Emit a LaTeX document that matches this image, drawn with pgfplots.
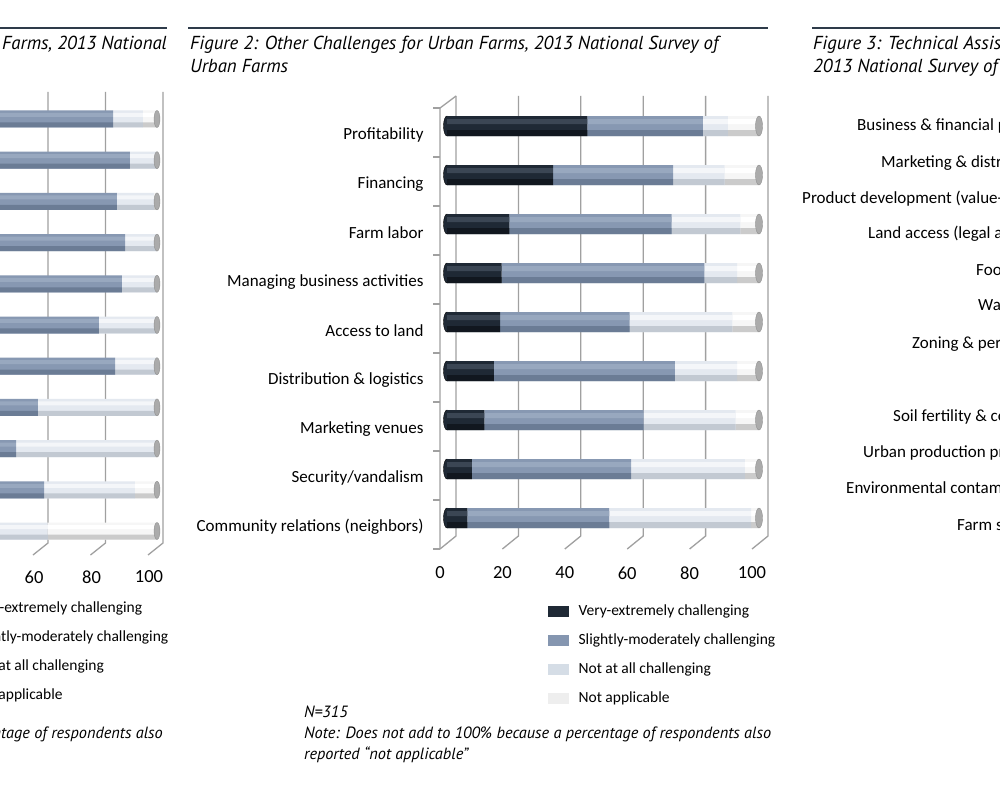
\documentclass[border=0pt]{standalone}
\usepackage{fontspec}
\setmainfont{Carlito}
\newfontfamily\notefont{PT Sans}
\usepackage{pgfplots}
\usepackage{pgfplotstable}
\pgfplotsset{compat=1.18}

\definecolor{ruleblue}{HTML}{2E3B4A}
\definecolor{gridgray}{HTML}{A0A0A0}
% bar body, lower shade and upper highlight of each segment
\definecolor{vdark}{HTML}{1F2935}
\definecolor{vdarkbot}{HTML}{11171F}
\definecolor{vdarktop}{HTML}{3B4654}
\definecolor{smed}{HTML}{8798B2}
\definecolor{smedbot}{HTML}{6B7C95}
\definecolor{smedtop}{HTML}{98A8BF}
\definecolor{nlight}{HTML}{E4E9F0}
\definecolor{nlightbot}{HTML}{C2C9D2}
\definecolor{nlighttop}{HTML}{F4F6F9}
\definecolor{napp}{HTML}{F6F6F6}
\definecolor{nappbot}{HTML}{CBCBCB}
\definecolor{napptop}{HTML}{FFFFFF}
\definecolor{capgray}{HTML}{ABABAB}
\definecolor{legdark}{HTML}{1F2935}
\definecolor{legmed}{HTML}{8596B0}
\definecolor{leglight}{HTML}{D5DDE6}
\definecolor{legna}{HTML}{EEEEEE}

% Figure 2, bottom row first: community relations, security, marketing venues,
% distribution, access to land, managing business, farm labor, financing, profitability
\pgfplotstableread{
y very slight notatall na
0 6.5 45.5 45.5 2.5
1 8 51 36.5 4.5
2 12 51 29.5 7.5
3 15 58 20 7
4 17 41.5 33 8.5
5 17.5 65 10.5 7
6 20 52 22 6
7 34 38.5 16.5 11
8 45 37 8 10
}\othertable

% Figure 1 (only its right end is in the picture), bottom row first
\pgfplotstableread{
y very slight notatall na
0 15 20 27 38
1 25 35.7 31.6 7.7
2 20 31 48.5 0.5
3 22 36.6 41 0.4
4 30 55.4 14.6 0
5 30 49.8 20.2 0
6 30 57.8 12.2 0
7 35 53.9 11.1 0
8 35 51 13 1
9 40 50.6 9.4 0
10 40 44.7 10.4 4.9
}\prodtable

% the four stacked segments of one table, in four colours
\newcommand{\segments}[5]{%
  \addplot[fill=#2, draw=none, forget plot] table[x=very, y=y] {#1};
  \addplot[fill=#3, draw=none, forget plot] table[x=slight, y=y] {#1};
  \addplot[fill=#4, draw=none, forget plot] table[x=notatall, y=y] {#1};
  \addplot[fill=#5, draw=none, forget plot] table[x=na, y=y] {#1};
}

\pgfplotsset{
  barbase/.style={
    scale only axis, anchor=south west,
    axis line style={draw=none}, major tick length=0pt,
    /pgf/number format/assume math mode=true,
    xtick={0,20,...,100},
    xticklabel style={font=\fontsize{18.5}{20}\selectfont, anchor=center},
  },
  cgeom/.style={at={(447pt,242.5pt)}, width=312pt, height=441pt,
    xmin=0, xmax=100, ymin=-0.5, ymax=8.5},
  lgeom/.style={at={(-130.5pt,233.4pt)}, width=287.5pt, height=453.2pt,
    xmin=0, xmax=100, ymin=-0.5, ymax=10.5},
  overlay/.style={hide axis, clip=false, xbar stacked},
  legbox/.style={legend image code/.code={\fill[#1] (0pt,-5pt) rectangle (20pt,5pt); \path (30pt,0pt);}},
  mylegend/.style={
    legend style={draw=none, fill=none, inner sep=0pt, anchor=north west,
      font=\fontsize{15.5}{18}\selectfont, row sep=14.5pt,
      nodes={inner sep=0pt, text height=11pt, text depth=3.5pt}},
    legend cell align=left},
}

\begin{document}
\begin{tikzpicture}[x=1pt,y=1pt]
\useasboundingbox (0,0) rectangle (1000,785);
\fill[white] (0,0) rectangle (1000,785);
\clip (0,0) rectangle (1000,785);

% top rules
\draw[ruleblue, line width=1.2pt] (0,757) -- (167,757);
\draw[ruleblue, line width=1.2pt] (188,757) -- (768,757);
\draw[ruleblue, line width=1.2pt] (812,757) -- (1000,757);

% titles
\begin{scope}[every node/.style={font=\notefont\itshape\fontsize{18.8}{22}\selectfont, inner sep=0pt}]
\node[anchor=base east] at (167,735) {Farms, 2013 National};
\node[anchor=base west] at (190,735) {Figure 2: Other Challenges for Urban Farms, 2013 National Survey of};
\node[anchor=base west] at (190,712) {Urban Farms};
\node[anchor=base west] at (813,735) {Figure 3: Technical Assistance Needs of Urban Farms,};
\node[anchor=base west] at (813,712) {2013 National Survey of Urban Farms};
\end{scope}

% walls of figure 1
\foreach \x in {-9.5,48,105.5,163} {
  \draw[gridgray, line width=1.3pt] (\x,693) -- (\x,242) -- (\x-15,230);
}
% walls of figure 2
\foreach \x in {456,518.4,580.8,643.2,705.6,768} {
  \draw[gridgray, line width=1.3pt] (\x,689) -- (\x,249) -- (\x-16,236);
}
\draw[gridgray, line width=1.3pt] (440,236) -- (440,677) -- (456,689);
\foreach \k in {0,...,9} {
  \draw[gridgray, line width=1.3pt] (433,677-49*\k) -- (440,677-49*\k);
}

% ---- Figure 1 ----
\begin{axis}[barbase, lgeom, xbar stacked, bar width=17pt, ytick=\empty,
  xticklabel style={xshift=-8pt, yshift=-25.4pt},
  mylegend, legend style={at={(0.2487,-0.1107)}}]
\segments{\prodtable}{vdark}{smed}{nlight}{napp}
\addlegendimage{legbox=legdark}
\addlegendentry{Very-extremely challenging}
\addlegendimage{legbox=legmed}
\addlegendentry{Slightly-moderately challenging}
\addlegendimage{legbox=leglight}
\addlegendentry{Not at all challenging}
\addlegendimage{legbox=legna}
\addlegendentry{Not applicable}
\end{axis}
\begin{axis}[barbase, lgeom, overlay, bar width=5pt, bar shift=-6pt]
\segments{\prodtable}{vdarkbot}{smedbot}{nlightbot}{nappbot}
\end{axis}
\begin{axis}[barbase, lgeom, overlay, bar width=4pt, bar shift=4pt]
\segments{\prodtable}{vdarktop}{smedtop}{nlighttop}{napptop}
\end{axis}
\begin{axis}[barbase, lgeom, hide axis, clip=false]
\addplot[only marks, mark=*, mark size=8.5pt, mark options={xscale=0.35, draw=capgray!85!black, fill=capgray}]
  coordinates {(100,0) (100,1) (100,2) (100,3) (100,4) (100,5) (100,6) (100,7) (100,8) (100,9) (100,10)};
\end{axis}

% ---- Figure 2 ----
\begin{axis}[barbase, cgeom, hide axis, clip=false]
\addplot[only marks, mark=*, mark size=10pt, mark options={xscale=0.35, draw=none, fill=vdark}]
  coordinates {(0,0) (0,1) (0,2) (0,3) (0,4) (0,5) (0,6) (0,7) (0,8)};
\end{axis}
\begin{axis}[barbase, cgeom, xbar stacked, bar width=20pt,
  ytick={0,...,8},
  yticklabels={Community relations (neighbors), Security/vandalism, Marketing venues,
    Distribution \& logistics, Access to land, Managing business activities,
    Farm labor, Financing, Profitability},
  xticklabel style={xshift=-7pt, yshift=-30.5pt},
  yticklabel style={font=\fontsize{17}{20}\selectfont, anchor=east, xshift=-20pt, yshift=-9pt},
  mylegend, legend style={at={(0.3237,-0.139)}}]
\segments{\othertable}{vdark}{smed}{nlight}{napp}
\addlegendimage{legbox=legdark}
\addlegendentry{Very-extremely challenging}
\addlegendimage{legbox=legmed}
\addlegendentry{Slightly-moderately challenging}
\addlegendimage{legbox=leglight}
\addlegendentry{Not at all challenging}
\addlegendimage{legbox=legna}
\addlegendentry{Not applicable}
\end{axis}
\begin{axis}[barbase, cgeom, overlay, bar width=6pt, bar shift=-7pt]
\segments{\othertable}{vdarkbot}{smedbot}{nlightbot}{nappbot}
\end{axis}
\begin{axis}[barbase, cgeom, overlay, bar width=5pt, bar shift=4.5pt]
\segments{\othertable}{vdarktop}{smedtop}{nlighttop}{napptop}
\end{axis}
\begin{axis}[barbase, cgeom, hide axis, clip=false]
\addplot[only marks, mark=*, mark size=10pt, mark options={xscale=0.35, draw=capgray!85!black, fill=capgray}]
  coordinates {(100,0) (100,1) (100,2) (100,3) (100,4) (100,5) (100,6) (100,7) (100,8)};
\end{axis}

% notes
\begin{scope}[every node/.style={font=\notefont\itshape\fontsize{16.3}{19}\selectfont, inner sep=0pt}]
\node[anchor=base east] at (163,47) {Note: Does not add to 100\% because a percentage of respondents also};
\node[anchor=base west] at (304,68) {N=315};
\node[anchor=base west] at (304,47) {Note: Does not add to 100\% because a percentage of respondents also};
\node[anchor=base west] at (304,26) {reported “not applicable”};
\end{scope}

% Figure 3 category labels (their chart lies beyond the right edge)
\begin{scope}[every node/.style={anchor=base west, font=\fontsize{17}{20}\selectfont, inner sep=0pt}]
\node at (857,654.5) {Business \& financial planning};
\node at (881,617.5) {Marketing \& distribution};
\node at (802,581.5) {Product development (value-added)};
\node at (868,546.5) {Land access (legal assistance)};
\node at (976,509.5) {Food safety};
\node at (978,474.5) {Water access};
\node at (912,436.5) {Zoning \& permitting};
\node at (893,363.5) {Soil fertility \& composting};
\node at (863,327.5) {Urban production practices};
\node at (846,291.5) {Environmental contamination};
\node at (957,254.5) {Farm safety};
\end{scope}
\end{tikzpicture}
\end{document}
